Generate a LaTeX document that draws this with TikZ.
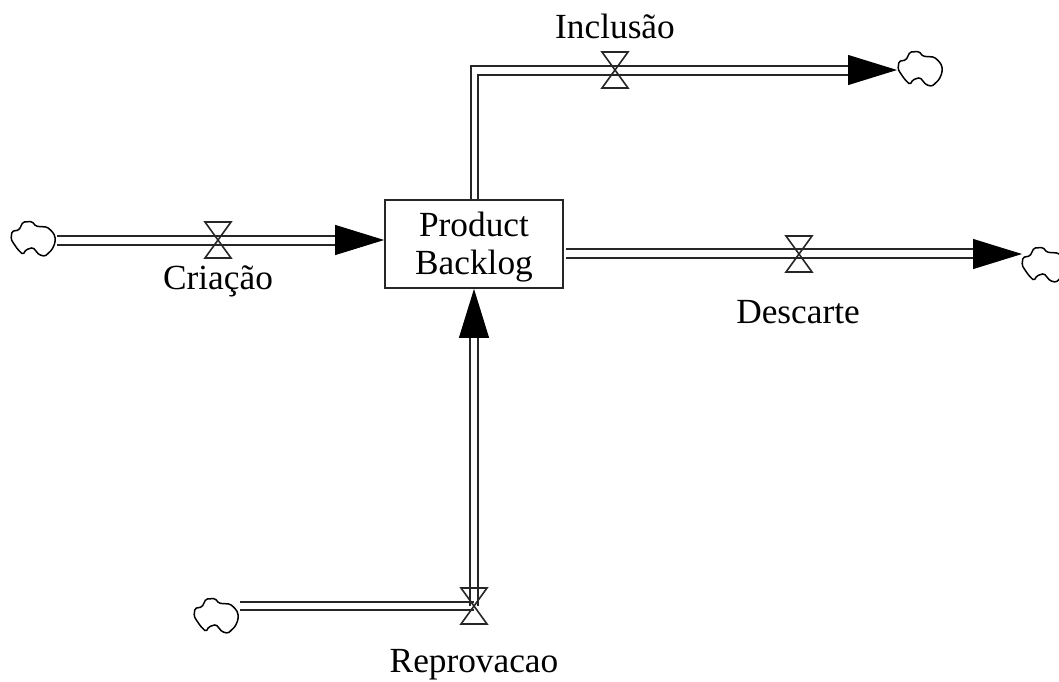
\documentclass[tikz,border=0pt]{standalone}
\usepackage{fontspec}
\setmainfont{Liberation Serif}
\usetikzlibrary{arrows.meta}
\tikzset{
  x=1pt,y=-1pt,
  flowline/.style={line width=2pt,black!85},
  flowtip/.style={line width=1pt,-{Triangle[length=49pt,width=30pt]}},
  thin line/.style={line width=1.6pt,black!85},
  lab/.style={font=\fontsize{35.3}{40}\selectfont,inner sep=0pt,align=center},
  valve/.pic={\draw[thin line,line join=miter] (-13,-18) -- (13,-18) -- (-13,18) -- (13,18) -- cycle;},
  cloud/.pic={\draw[line width=1.5pt,rounded corners=1.5pt]
    (0,0) -- (1,-7.7) -- (8,-9) -- (12,-17) -- (21,-17.5) -- (25,-12.7) -- (36,-12) -- (41,-7.7) -- (44,-3) -- (44,4) -- (41,10.7) -- (34,17.3) -- (28,15.7) -- (22,8.5) -- (15,10.7) -- (12,15.5) -- (7,10.7) -- (2.3,4) -- cycle;}
}
\begin{document}
\begin{tikzpicture}
\useasboundingbox (0,0) rectangle (1059,681);
\clip (0,0) rectangle (1059,681);
\node[draw,line width=1.8pt,black!85,minimum width=178pt,minimum height=88pt,inner sep=0pt] (box) at (474,244) {};
\node[lab] (prod) at (474,224) {Product};
\node[lab] (back) at (474,266) {Backlog};
% anchors
\coordinate (cA) at (57,240);   \coordinate (aA) at (336,240); \coordinate (vA) at (218,240);
\coordinate (cB) at (897,70);   \coordinate (aB) at (850,70);  \coordinate (vB) at (615,70);
\coordinate (eB) at (474,70);
\coordinate (sC) at (566,253);  \coordinate (cC) at (1022,254); \coordinate (aC) at (974,254); \coordinate (vC) at (799,254);
\coordinate (cD) at (240,606);  \coordinate (aD) at (474,337); \coordinate (vD) at (474,606);
% clouds
\pic at (11,239) {cloud};
\pic at (898,69) {cloud};
\pic at (1022,265) {cloud};
\pic at (194,616) {cloud};
% Criacao
\draw[flowline] ([yshift=-4.5pt]cA) -- ([yshift=-4.5pt]aA);
\draw[flowline] ([yshift=4.5pt]cA) -- ([yshift=4.5pt]aA);
\draw[flowtip] (aA) -- (box.west|-aA);
\pic at (vA) {valve};
% Inclusao
\draw[flowline,line join=miter] ([xshift=-3.5pt]box.north) -- ([shift={(-3.5pt,4.5pt)}]eB) -- ([yshift=4.5pt]aB);
\draw[flowline,line join=miter] ([xshift=3.5pt]box.north) -- ([shift={(3.5pt,-4.5pt)}]eB) -- ([yshift=-4.5pt]aB);
\draw[flowtip] (aB) -- (cB);
\pic at (vB) {valve};
% Descarte
\draw[flowline] ([yshift=4.5pt]sC) -- ([yshift=5.5pt]aC);
\draw[flowline] ([yshift=-4.5pt]sC) -- ([yshift=-3.5pt]aC);
\draw[flowtip] (aC) -- (cC);
\pic at (vC) {valve};
% Reprovacao
\draw[flowline] ([yshift=-4pt]cD) -- ([yshift=-4pt]vD);
\draw[flowline] ([yshift=4pt]cD) -- ([yshift=4pt]vD);
\draw[flowline] ([xshift=-4pt]aD) -- ([xshift=-4pt]vD);
\draw[flowline] ([xshift=4pt]aD) -- ([xshift=4pt]vD);
\draw[flowtip] (aD) -- (box.south);
\pic at (vD) {valve};
% labels
\node[lab] (l1) at (218,281) {Criação};
\node[lab] (l2) at (615,26) {Inclusão};
\node[lab] (l3) at (798,312) {Descarte};
\node[lab] (l4) at (474,665) {Reprovacao};
\end{tikzpicture}
\end{document}
